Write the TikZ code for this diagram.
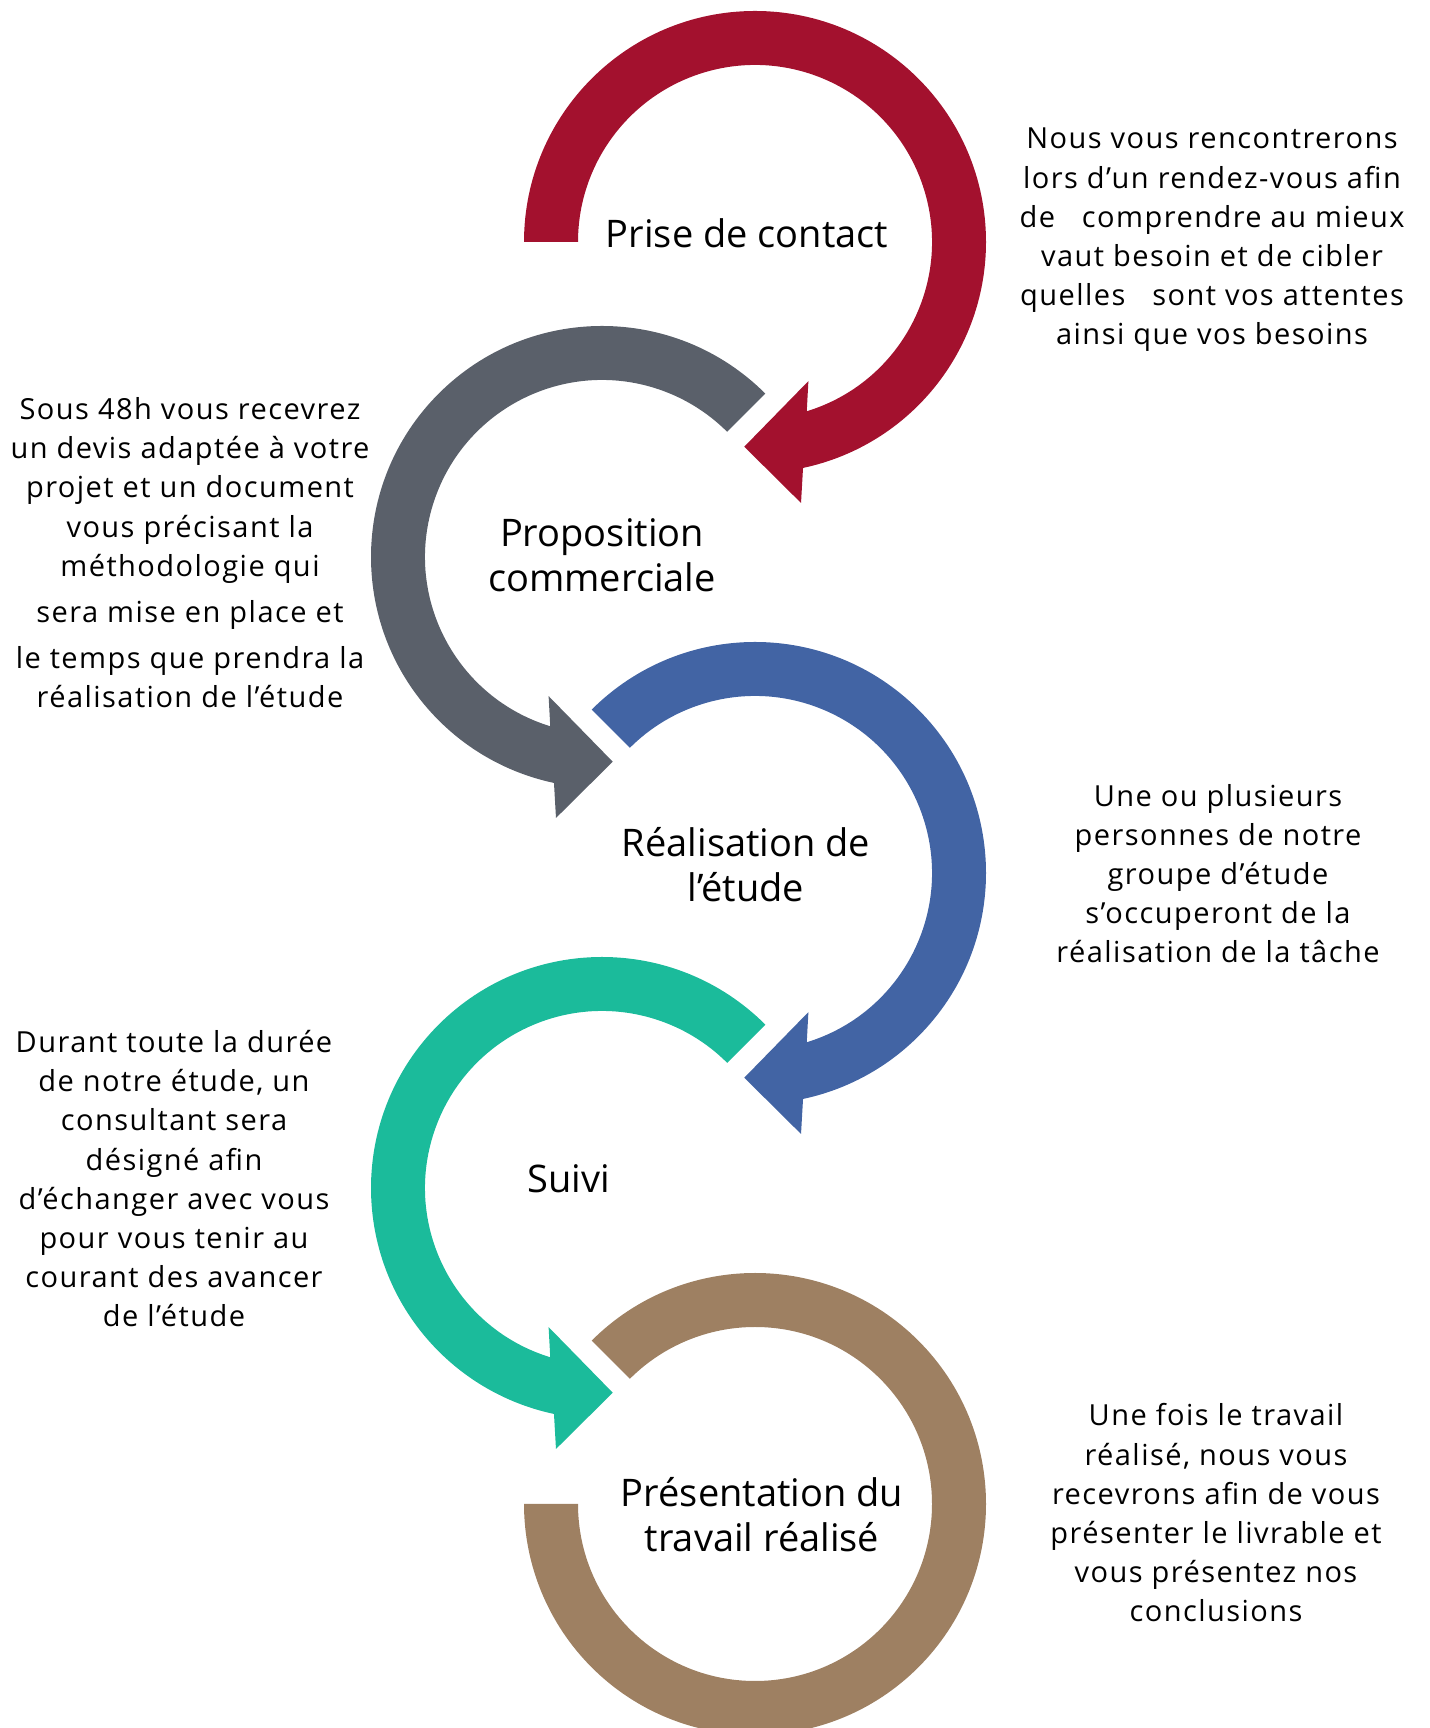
\documentclass[tikz,border=0pt]{standalone}
\usepackage{fontspec}
\setmainfont{Open Sans}
\newfontfamily\corps[LetterSpace=5]{Open Sans}
\usetikzlibrary{positioning}

\definecolor{rouge}{HTML}{A3112E}
\definecolor{ardoise}{HTML}{5A606A}
\definecolor{bleu}{HTML}{4264A4}
\definecolor{turquoise}{HTML}{1BBB9B}
\definecolor{brun}{HTML}{9E8062}

\begin{document}
\begin{tikzpicture}[x=1pt,y=1pt,
    titre/.style={font=\fontsize{38}{45}\selectfont,align=center,anchor=base,inner sep=0pt},
    texte/.style={font=\corps\fontsize{29}{39.2}\selectfont,align=center,anchor=base,inner sep=0pt}]
  \useasboundingbox (0,0) rectangle (1429,1728);
  % centres des anneaux
  \coordinate (c1) at (755,1486);
  \coordinate (c2) at (602,1171);
  \coordinate (c3) at (755,855);
  \coordinate (c4) at (602,540);
  \coordinate (c5) at (755,224);
  % fleches circulaires
  \fill[rouge,shift={(c1)}] (180:231) arc[start angle=180,end angle=-78,radius=231] -- (-80:265) -- (-93:205) -- (-69:149) -- (-73:177) arc[start angle=-73,end angle=180,radius=177] -- cycle;
  \fill[ardoise,shift={(c2)}] (45:231) arc[start angle=45,end angle=258,radius=231] -- (260:265) -- (273:205) -- (249:149) -- (253:177) arc[start angle=253,end angle=45,radius=177] -- cycle;
  \fill[bleu,shift={(c3)}] (135:231) arc[start angle=135,end angle=-78,radius=231] -- (-80:265) -- (-93:205) -- (-69:149) -- (-73:177) arc[start angle=-73,end angle=135,radius=177] -- cycle;
  \fill[turquoise,shift={(c4)}] (45:231) arc[start angle=45,end angle=258,radius=231] -- (260:265) -- (273:205) -- (249:149) -- (253:177) arc[start angle=253,end angle=45,radius=177] -- cycle;
  \fill[brun,shift={(c5)}] (135:231) arc[start angle=135,end angle=-180,radius=231] -- (180:177) arc[start angle=-180,end angle=135,radius=177] -- cycle;
  % titres (base = derniere ligne)
  \node[titre] (t1) at (747,1480) {Prise de contact};
  \node[titre] (t2) at (602,1136) {Proposition\\commerciale};
  \node[titre] (t3) at (746,826) {Réalisation de\\l’étude};
  \node[titre] (t4) at (569,535) {Suivi};
  \node[titre] (t5) at (762,176) {Présentation du\\travail réalisé};
  % textes
  \node[texte] (d1) at (1212,1383) {Nous vous rencontrerons\\lors d’un rendez-vous afin\\de\hspace{0.93em}comprendre au mieux\\vaut besoin et de cibler\\quelles\hspace{0.93em}sont vos attentes\\ainsi que vos besoins};
  \node[texte] (d2) at (190,1020) {Sous 48h vous recevrez\\un devis adaptée à votre\\projet et un document\\vous précisant la\\méthodologie qui\\[7pt]sera mise en place et\\[7pt]le temps que prendra la\\réalisation de l’étude};
  \node[texte] (d3) at (1218,765) {Une ou plusieurs\\personnes de notre\\groupe d’étude\\s’occuperont de la\\réalisation de la tâche};
  \node[texte] (d4) at (174,401) {Durant toute la durée\\de notre étude, un\\consultant sera\\désigné afin\\d’échanger avec vous\\pour vous tenir au\\courant des avancer\\de l’étude};
  \node[texte] (d5) at (1216,106) {Une fois le travail\\réalisé, nous vous\\recevrons afin de vous\\présenter le livrable et\\vous présentez nos\\conclusions};
\end{tikzpicture}
\end{document}
